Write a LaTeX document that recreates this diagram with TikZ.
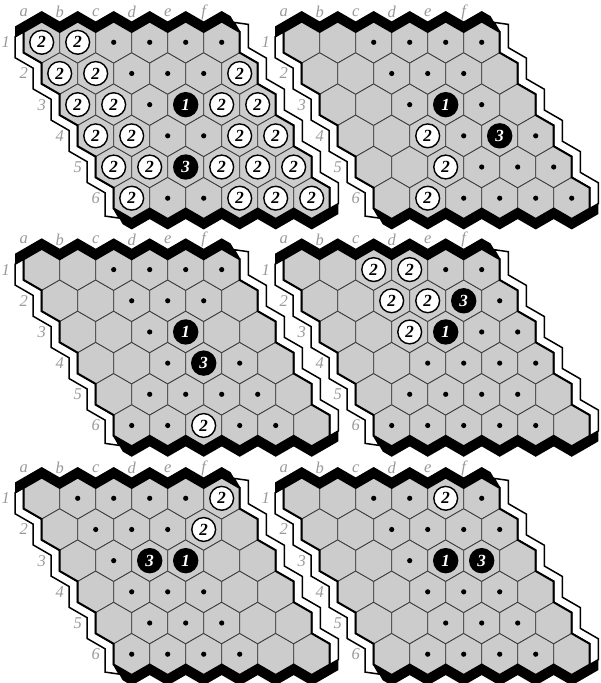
\documentclass[tikz,border=0pt]{standalone}
\usepackage{fontspec}
\setmainfont{Liberation Serif}
\definecolor{cellgray}{HTML}{CCCCCC}
\definecolor{gridline}{HTML}{3A3A3A}
\definecolor{labelgray}{HTML}{9A9A9A}
\tikzset{
  cell/.style={fill=cellgray, draw=gridline, line width=0.8pt},
  boardedge/.style={draw=black, line width=2pt, line join=miter},
  whiteband/.style={fill=white, draw=black, line width=1.5pt, line join=miter},
  blackband/.style={fill=black},
  wstone/.style={circle, fill=white, draw=black, line width=1.4pt, minimum size=23.8pt, inner sep=0pt,
    font=\fontsize{17}{17}\selectfont\bfseries\itshape},
  bstone/.style={circle, fill=black, minimum size=25.4pt, inner sep=0pt, text=white,
    font=\fontsize{17}{17}\selectfont\bfseries\itshape},
  dotmark/.style={circle, fill=black, minimum size=5.2pt, inner sep=0pt},
  boardlabel/.style={text=labelgray, font=\fontsize{16.5}{16.5}\selectfont\itshape, inner sep=0pt},
}
\newcommand\topbandshape{%
  \fill[blackband] (-26.66,-15.89) -- (-18,-20.892) -- (0,-31.285) -- (18,-20.892) -- (36,-31.285)
   -- (54,-20.892) -- (72,-31.285) -- (90,-20.892) -- (108,-31.285) -- (126,-20.892) -- (144,-31.285)
   -- (162,-20.892) -- (180,-31.285) -- (188.9,-26.14) -- (198,-10.392) -- (180,-20.785) -- (162,-10.392)
   -- (144,-20.785) -- (126,-10.392) -- (108,-20.785) -- (90,-10.392) -- (72,-20.785) -- (54,-10.392)
   -- (36,-20.785) -- (18,-10.392) -- (0,-20.785) -- (-18,-10.392) -- (-26.66,-5.392) -- cycle;}
\newcommand\rightbandshape{%
  \filldraw[whiteband] (198,-10.392) -- (192.5,-19.9) -- (206.66,-17.9) -- (206.66,5.392) -- (224.66,15.785)
   -- (224.66,36.569) -- (242.66,46.962) -- (242.66,67.746) -- (260.66,78.138) -- (260.66,98.923)
   -- (278.66,109.315) -- (278.66,130.1) -- (296.66,140.492) -- (296.66,161.277) -- (288,166.277)
   -- (288,145.492) -- (270,135.1) -- (270,114.315) -- (252,103.923) -- (252,83.138) -- (234,72.746)
   -- (234,51.962) -- (216,41.569) -- (216,20.785) -- (198,10.392) -- cycle;}
\newcommand\boardoutline{%
  \draw[boardedge] (-18,-10.392) -- (0,-20.785) -- (18,-10.392) -- (36,-20.785) -- (54,-10.392) -- (72,-20.785)
   -- (90,-10.392) -- (108,-20.785) -- (126,-10.392) -- (144,-20.785) -- (162,-10.392) -- (180,-20.785)
   -- (198,-10.392) -- (198,10.392) -- (216,20.785) -- (216,41.569) -- (234,51.962) -- (234,72.746)
   -- (252,83.138) -- (252,103.923) -- (270,114.315) -- (270,135.1) -- (288,145.492) -- (288,166.277)
   -- (270,176.669) -- (252,166.277) -- (234,176.669) -- (216,166.277) -- (198,176.669) -- (180,166.277)
   -- (162,176.669) -- (144,166.277) -- (126,176.669) -- (108,166.277) -- (90,176.669) -- (72,166.277)
   -- (72,145.492) -- (54,135.1) -- (54,114.315) -- (36,103.923) -- (36,83.138) -- (18,72.746)
   -- (18,51.962) -- (0,41.569) -- (0,20.785) -- (-18,10.392) -- cycle;}
\newcommand\W[2]{\node[wstone] (\bp w#1#2) at (36*#1+18*#2, 31.1769*#2) {2};}
\newcommand\B[3]{\node[bstone] (\bp b#1#2) at (36*#1+18*#2, 31.1769*#2) {#3};}
\newcommand\D[2]{\node[dotmark] (\bp d#1#2) at (36*#1+18*#2, 31.1769*#2) {};}
\newcommand\hexboard[4]{%
  \begin{scope}[shift={(#2,#3)}]
    \def\bp{#1}
    \rightbandshape
    \begin{scope}[rotate around={180:(135,77.9423)}]
      \rightbandshape
      \topbandshape
    \end{scope}
    \topbandshape
    \foreach \i in {0,...,5}{\foreach \j in {0,...,5}{
      \draw[cell] (36*\i+18*\j, 31.1769*\j-20.7846) -- ++(18,10.3923) -- ++(0,20.7846)
        -- ++(-18,10.3923) -- ++(-18,-10.3923) -- ++(0,-20.7846) -- cycle;}}
    \boardoutline
    \foreach \i/\l in {0/a,1/b,2/c,3/d,4/e,5/f}{\node[boardlabel] (\bp col\l) at (36*\i-18,-30) {\l};}
    \foreach \j/\n in {0/1,1/2,2/3,3/4,4/5,5/6}{\node[boardlabel] (\bp row\n) at (18*\j-36, 31.1769*\j) {\n};}
    #4
  \end{scope}}
\begin{document}
\begin{tikzpicture}[x=1pt,y=-1pt]
\useasboundingbox (0,0) rectangle (600,683);
\hexboard{p}{41.7}{42.3}{%
  \W00 \W10 \D20 \D30 \D40 \D50
  \W01 \W11 \D21 \D31 \D41 \W51
  \W02 \W12 \D22 \B32{1} \W42 \W52
  \W03 \W13 \D23 \D33 \W43 \W53
  \W04 \W14 \B24{3} \W34 \W44 \W54
  \W05 \D15 \D25 \W35 \W45 \W55}
\hexboard{q}{301.7}{42.3}{%
  \D20 \D30 \D40 \D50
  \D21 \D31 \D41
  \D22 \B32{1} \D42
  \W23 \D33 \B43{3} \D53
  \W24 \D34 \D44 \D54
  \W15 \D25 \D35 \D45 \D55}
\hexboard{r}{41.7}{269.6}{%
  \D20 \D30 \D40 \D50
  \D21 \D31 \D41
  \D22 \B32{1}
  \D23 \B33{3} \D43
  \D14 \D24 \D34 \D44
  \D05 \D15 \W25 \D35 \D45}
\hexboard{s}{301.7}{269.6}{%
  \W20 \W30 \D40 \D50
  \W21 \W31 \B41{3} \D51
  \W22 \B32{1} \D42 \D52
  \D23 \D33 \D43 \D53
  \D14 \D24 \D34 \D44
  \D05 \D15 \D25 \D35 \D45}
\hexboard{t}{41.7}{498.3}{%
  \D10 \D20 \D30 \D40 \W50
  \D11 \D21 \D31 \W41
  \D12 \B22{3} \B32{1}
  \D13 \D23 \D33
  \D14 \D24 \D34
  \D05 \D15 \D25 \D35}
\hexboard{u}{301.7}{498.3}{%
  \D20 \D30 \W40 \D50
  \D21 \D31 \D41 \D51
  \D22 \B32{1} \B42{3}
  \D23 \D33 \D43
  \D24 \D34 \D44
  \D15 \D25 \D35 \D45}
\end{tikzpicture}
\end{document}
